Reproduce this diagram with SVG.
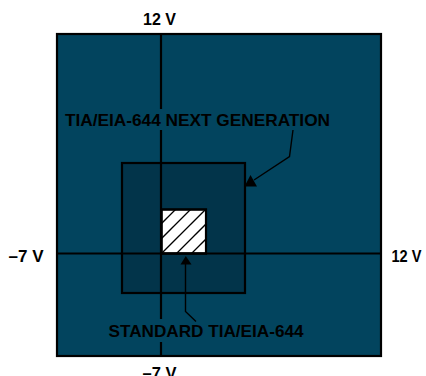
<svg xmlns="http://www.w3.org/2000/svg" width="426" height="376" viewBox="0 0 426 376">
<style>
.t{font-family:"Liberation Sans",Arial,sans-serif;font-weight:bold;font-size:16.5px;fill:#000}
.ln{stroke:#000;stroke-width:2.2;fill:none}
.ld{stroke:#000;stroke-width:1.4;fill:none}
.h{stroke:#000;stroke-width:1.3}
</style>
<rect width="426" height="376" fill="#fff"/>
<g id="outer">
<rect x="57" y="34" width="324" height="322" fill="#02445e" stroke="#000" stroke-width="2.2"/>
</g>
<g id="next-gen-region">
<rect x="122" y="163" width="123" height="130" fill="#02344a" stroke="#000" stroke-width="2.2"/>
</g>
<g id="standard-region">
<rect x="161.5" y="209.5" width="44.5" height="44" fill="#fff" stroke="#000" stroke-width="2"/>
<clipPath id="sq"><rect x="161.5" y="209.5" width="44.5" height="44"/></clipPath>
<g clip-path="url(#sq)">
<line class="h" x1="140" y1="245" x2="190" y2="195"/>
<line class="h" x1="140" y1="260" x2="205" y2="195"/>
<line class="h" x1="150" y1="265" x2="220" y2="195"/>
<line class="h" x1="165" y1="265" x2="235" y2="195"/>
<line class="h" x1="180" y1="265" x2="250" y2="195"/>
</g>
<rect x="161.5" y="209.5" width="44.5" height="44" fill="none" stroke="#000" stroke-width="2.2"/>
</g>
<g id="axes">
<line class="ln" x1="161" y1="34" x2="161" y2="109"/>
<line class="ln" x1="161" y1="130" x2="161" y2="319"/>
<line class="ln" x1="161" y1="342" x2="161" y2="356"/>
<line class="ln" x1="57" y1="253.5" x2="381" y2="253.5"/>
</g>
<g id="connectors">
<polyline class="ld" points="293,130 289.5,156.5 254,180"/>
<polygon points="250.5,175 244.5,186.5 257,186.5" fill="#000"/>
<polyline class="ld" points="185.5,264 185.5,311.5 196,321.5"/>
<polygon points="185.8,256 180.5,264.5 191.5,264.5" fill="#000"/>
</g>
<g id="labels">
<text class="t" x="143" y="24.5" textLength="33" lengthAdjust="spacingAndGlyphs">12 V</text>
<text class="t" x="391.5" y="261.5" textLength="30" lengthAdjust="spacingAndGlyphs">12 V</text>
<text class="t" x="8.5" y="261.5" textLength="35" lengthAdjust="spacingAndGlyphs">–7 V</text>
<text class="t" x="142.5" y="378.5" textLength="34" lengthAdjust="spacingAndGlyphs">–7 V</text>
<text class="t" x="65" y="126" textLength="265" lengthAdjust="spacingAndGlyphs">TIA/EIA-644 NEXT GENERATION</text>
<text class="t" x="108.5" y="337" textLength="195" lengthAdjust="spacingAndGlyphs">STANDARD TIA/EIA-644</text>
</g>
</svg>
